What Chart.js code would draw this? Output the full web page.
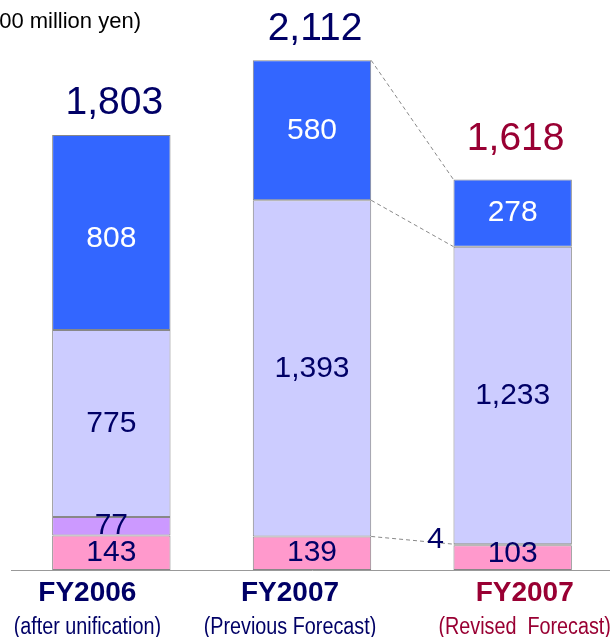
<!DOCTYPE html>
<html>
<head>
<meta charset="utf-8">
<script src="https://cdn.jsdelivr.net/npm/chart.js@4.4.0/dist/chart.umd.min.js"></script>
<style>
  html, body { margin: 0; padding: 0; background: #fff; overflow: hidden; }
  #wrap { position: relative; width: 614px; height: 637px; }
</style>
</head>
<body>
<div id="wrap"><canvas id="grafico"></canvas></div>
<script>
// values in 100 million yen
const categories = ['FY2006', 'FY2007', 'FY2007'];
const subLabels = ['(after unification)', '(Previous Forecast)', '(Revised  Forecast)'];
const seriesPink = [143, 139, 103];
const seriesPurple = [77, 0, 4];
const seriesLavender = [775, 1393, 1233];
const seriesBlue = [808, 580, 278];
const totals = [1803, 2112, 1618];

const navy = '#000066';
const red = '#990033';
const catColors = [navy, navy, red];
const labelShift = [-24, -22, 12];   // x labels are not exactly under the bars
const totalGap = [32, 31, 40];

const labelsPlugin = {
  id: 'labelsPlugin',
  afterDatasetsDraw(chart) {
    const ctx = chart.ctx;
    const y = chart.scales.y;
    const area = chart.chartArea;
    ctx.save();

    // baseline
    ctx.strokeStyle = '#999';
    ctx.lineWidth = 1;
    ctx.beginPath();
    ctx.moveTo(11, area.bottom + 0.5);
    ctx.lineTo(614, area.bottom + 0.5);
    ctx.stroke();

    // dashed connectors between bar 2 and bar 3
    const m0 = chart.getDatasetMeta(0);
    const b2 = m0.data[1], b3 = m0.data[2];
    const x1 = b2.x + b2.width / 2, x2 = b3.x - b3.width / 2;
    ctx.setLineDash([4, 3]);
    ctx.strokeStyle = '#888';
    [1, 2, 3].forEach(level => {
      let s2 = 0, s3 = 0;
      for (let d = 0; d <= level; d++) {
        s2 += chart.data.datasets[d].data[1];
        s3 += chart.data.datasets[d].data[2];
      }
      ctx.beginPath();
      ctx.moveTo(x1, y.getPixelForValue(s2));
      ctx.lineTo(x2, y.getPixelForValue(s3));
      ctx.stroke();
    });
    ctx.setLineDash([]);

    // segment values
    ctx.textAlign = 'center';
    ctx.textBaseline = 'middle';
    ctx.font = '30px "Liberation Sans", Arial, sans-serif';
    chart.data.datasets.forEach((ds, di) => {
      const meta = chart.getDatasetMeta(di);
      meta.data.forEach((bar, i) => {
        const v = ds.data[i];
        if (!v) return;
        const h = Math.abs(bar.base - bar.y);
        ctx.fillStyle = di === 3 ? '#fff' : navy;
        let ty = (bar.y + bar.base) / 2;
        if (di === 3 && i === 0) ty += 6;
        if (di === 0 && i === 2) ty -= 4;
        if (h < 8) {
          ctx.fillText(v.toLocaleString('en-US'), bar.x - bar.width / 2 - 18, ty - 5);
        } else {
          ctx.fillText(v.toLocaleString('en-US'), bar.x, ty);
        }
      });
    });

    // totals
    ctx.font = '39px "Liberation Sans", Arial, sans-serif';
    totals.forEach((t, i) => {
      const bar = m0.data[i];
      ctx.fillStyle = catColors[i];
      ctx.fillText(t.toLocaleString('en-US'), bar.x + 3, y.getPixelForValue(t) - totalGap[i]);
    });

    // category labels
    categories.forEach((c, i) => {
      const cx = m0.data[i].x + labelShift[i];
      ctx.fillStyle = catColors[i];
      ctx.font = 'bold 28px "Liberation Sans", Arial, sans-serif';
      ctx.fillText(c, cx, 593);
      ctx.save();
      ctx.translate(cx, 628);
      ctx.scale(0.86, 1);
      ctx.font = '23px "Liberation Sans", Arial, sans-serif';
      ctx.fillText(subLabels[i], 0, 0);
      ctx.restore();
    });

    // unit (cut on the left like the original)
    ctx.fillStyle = '#000';
    ctx.textAlign = 'right';
    ctx.font = '22px "Liberation Sans", Arial, sans-serif';
    ctx.fillText('(100 million yen)', 141, 22);

    ctx.restore();
  }
};

const ctxBar = document.getElementById('grafico').getContext('2d');
new Chart(ctxBar, {
  type: 'bar',
  data: {
    labels: categories,
    datasets: [
      { label: 'A', data: seriesPink, backgroundColor: '#FF99CC' },
      { label: 'B', data: seriesPurple, backgroundColor: '#CC99FF' },
      { label: 'C', data: seriesLavender, backgroundColor: '#CCCCFF' },
      { label: 'D', data: seriesBlue, backgroundColor: '#3366FF' }
    ].map(d => Object.assign(d, {
      borderColor: '#888',
      borderWidth: 1,
      borderSkipped: false,
      barPercentage: 0.59,
      categoryPercentage: 1
    }))
  },
  options: {
    responsive: true,
    maintainAspectRatio: false,
    animation: false,
    layout: { padding: { left: 11, right: 1, top: 0, bottom: 67 } },
    scales: {
      x: { stacked: true, display: false },
      y: { stacked: true, display: false, min: 0, max: 2362 }
    },
    plugins: {
      legend: { display: false },
      tooltip: { enabled: false }
    }
  },
  plugins: [labelsPlugin]
});
</script>
</body>
</html>
